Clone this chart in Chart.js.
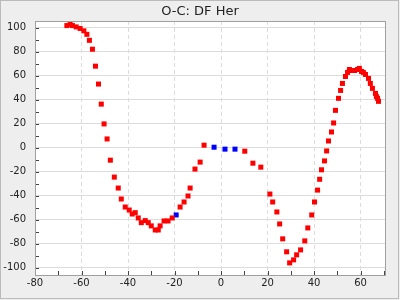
<!DOCTYPE html>
<html><head><meta charset="utf-8">
<script src="https://cdn.jsdelivr.net/npm/chart.js@4"></script>
<style>html,body{margin:0;padding:0;background:#eeeeee;overflow:hidden}</style>
</head><body>
<canvas id="c" width="400" height="300" style="display:block;width:400px;height:300px"></canvas>
<script>
const chartTitle = "O-C: DF Her";
const redX = [-66.3,-64.9,-63.9,-62.3,-60.6,-59.0,-57.7,-56.6,-55.3,-54.0,-52.7,-51.5,-50.3,-49.0,-47.6,-45.9,-44.2,-42.9,-41.2,-39.5,-38.2,-36.9,-35.6,-34.3,-32.6,-31.3,-30.0,-28.3,-27.0,-26.2,-24.5,-22.8,-21.0,-17.6,-15.9,-14.2,-13.3,-11.2,-9.0,-7.3,10.2,13.7,17.1,21.0,22.2,24.0,25.2,26.5,28.2,29.5,31.2,32.5,34.2,36.0,37.3,39.0,40.2,41.5,42.4,43.2,44.5,45.4,46.2,47.5,48.4,49.2,50.5,51.4,52.2,53.5,54.4,55.2,56.5,57.4,58.7,59.5,60.4,61.2,62.1,63.4,64.2,65.1,66.4,66.8,67.3,67.7];
const redY = [101.7,102.7,101.7,100.6,99.3,97.3,94.4,89.4,82.0,67.9,53.0,36.3,19.8,7.3,-10.4,-24.5,-33.6,-42.7,-49.4,-51.9,-55.2,-54.1,-58.5,-62.4,-60.7,-62.4,-65.1,-68.5,-68.5,-65.1,-61.0,-61.0,-58.5,-49.4,-45.2,-40.2,-33.6,-17.8,-12.0,2.1,-2.9,-12.9,-16.2,-38.6,-45.2,-53.5,-63.5,-75.9,-86.7,-95.9,-93.4,-89.2,-85.1,-77.6,-66.8,-56.0,-45.2,-35.3,-26.3,-18.4,-11.0,-2.7,5.6,13.1,20.6,31.1,41.1,47.7,53.5,59.3,62.7,65.1,64.3,64.3,65.1,66.0,63.5,62.7,61.0,57.7,53.5,49.4,45.2,42.7,41.1,38.6];
const blueX = [-19.3,-3.0,1.7,6.0];
const blueY = [-56.0,0.4,-1.2,-1.2];
const xTicks = [-80,-60,-40,-20,0,20,40,60];
const yTicks = [-100,-80,-60,-40,-20,0,20,40,60,80,100];
const xMinorTicks = [-80,-70,-60,-50,-40,-30,-20,-10,0,10,20,30,40,50,60,70];
const yMinorTicks = [-100,-90,-80,-70,-60,-50,-40,-30,-20,-10,0,10,20,30,40,50,60,70,80,90,100];

const toPts = (xs, ys) => xs.map((x, i) => ({x: x, y: ys[i]}));
const FONT = "'DejaVu Sans', sans-serif";

const framePlugin = {
  id: 'frame',
  beforeDraw(chart) {
    const ctx = chart.ctx, ca = chart.chartArea;
    ctx.save();
    ctx.fillStyle = '#eeeeee';
    ctx.fillRect(0, 0, chart.width, chart.height);
    ctx.strokeStyle = '#bbbbbb';
    ctx.lineWidth = 1;
    ctx.strokeRect(0.5, 0.5, 398, 298);
    ctx.fillStyle = '#ffffff';
    ctx.fillRect(ca.left, ca.top, ca.right - ca.left, ca.bottom - ca.top);
    ctx.restore();
  },
  afterDraw(chart) {
    const ctx = chart.ctx, ca = chart.chartArea;
    const xs = chart.scales.x, ys = chart.scales.y;
    ctx.save();
    ctx.strokeStyle = '#444444';
    ctx.lineWidth = 1;
    ctx.beginPath();
    yMinorTicks.forEach(v => {
      const y = Math.round(ys.getPixelForValue(v)) + 0.5;
      ctx.moveTo(ca.left, y); ctx.lineTo(ca.left + 4, y);
    });
    xMinorTicks.forEach(v => {
      const x = Math.round(xs.getPixelForValue(v)) + 0.5;
      ctx.moveTo(x, ca.bottom); ctx.lineTo(x, ca.bottom - 4);
    });
    ctx.stroke();
    ctx.strokeStyle = '#a0a0a0';
    ctx.strokeRect(Math.round(ca.left) + 0.5, Math.round(ca.top) + 0.5,
      Math.round(ca.right - ca.left), Math.round(ca.bottom - ca.top));
    ctx.fillStyle = '#222222';
    ctx.font = "13px " + FONT;
    ctx.textAlign = 'center';
    ctx.textBaseline = 'alphabetic';
    ctx.fillText(chartTitle, 200, 15);
    ctx.restore();
  }
};

new Chart(document.getElementById('c'), {
  type: 'scatter',
  data: {
    datasets: [
      {label: 'red', data: toPts(redX, redY), backgroundColor: '#ff0000', borderWidth: 0,
       pointStyle: 'rect', pointRadius: 3.55, pointHoverRadius: 3.55},
      {label: 'blue', data: toPts(blueX, blueY), backgroundColor: '#0000ff', borderWidth: 0,
       pointStyle: 'rect', pointRadius: 3.55, pointHoverRadius: 3.55}
    ]
  },
  options: {
    responsive: false,
    animation: false,
    devicePixelRatio: 1,
    layout: {padding: {top: 21, right: 15, left: 0, bottom: 0}},
    plugins: {legend: {display: false}, tooltip: {enabled: false}, title: {display: false}},
    scales: {
      x: {
        type: 'linear', min: -80, max: 70.5,
        afterBuildTicks: s => { s.ticks = xTicks.map(v => ({value: v})); },
        afterFit: s => { s.height = 25; },
        ticks: {padding: 2, maxRotation: 0, autoSkip: false, color: '#222222', font: {family: FONT, size: 10},
                callback: v => String(v)},
        grid: {color: '#dcdcdc', lineWidth: 1, drawTicks: false},
        border: {display: false, dash: [4, 3]}
      },
      y: {
        type: 'linear', min: -106, max: 105.5,
        afterBuildTicks: s => { s.ticks = yTicks.map(v => ({value: v})); },
        afterFit: s => { s.width = 35; },
        ticks: {padding: 9, autoSkip: false, color: '#222222', font: {family: FONT, size: 10},
                callback: v => String(v)},
        grid: {color: '#dcdcdc', lineWidth: 1, drawTicks: false},
        border: {display: false}
      }
    }
  },
  plugins: [framePlugin]
});
</script>
</body></html>
